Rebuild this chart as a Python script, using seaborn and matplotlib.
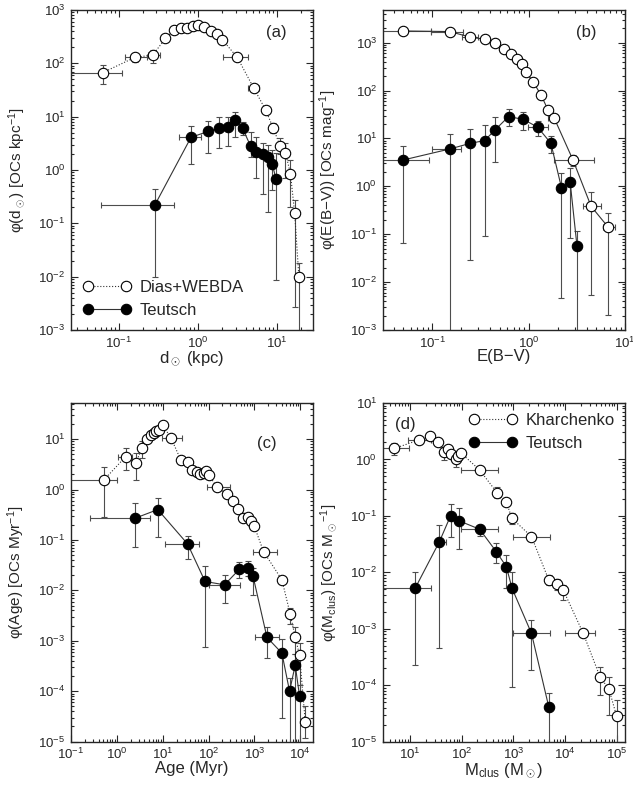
import numpy as np
import matplotlib
matplotlib.use("Agg")
import matplotlib.pyplot as plt
import seaborn as sns

# panel (a): distance distribution
a_dias_x = [0.063, 0.16, 0.27, 0.39, 0.50, 0.61, 0.74, 0.87, 0.99, 1.21, 1.47, 1.76, 2.04, 3.15, 5.1, 7.2, 9.0, 10.9, 12.8, 14.8, 16.7, 18.9]
a_dias_y = [67, 129, 143, 295, 422, 453, 460, 500, 525, 473, 407, 355, 277, 129, 34, 13.3, 6.0, 2.86, 2.1, 0.84, 0.158, 0.0097]
a_dias_ylo = [41, 107, 100, 295, 422, 453, 460, 500, 525, 473, 407, 355, 277, 129, 34, 13.3, 4.9, 2.0, 0.7, 0.2, 0.0027, 1e-7]
a_dias_yhi = [93, 155, 178, 295, 422, 453, 460, 500, 525, 473, 407, 355, 277, 129, 34, 13.3, 7.5, 3.9, 3.2, 1.55, 0.27, 0.018]
a_dias_xlo = [0.01, 0.12, 0.237, 0.39, 0.50, 0.61, 0.74, 0.87, 0.99, 1.21, 1.47, 1.76, 2.04, 2.1, 4.34, 7.2, 9.0, 10.9, 12.8, 14.8, 16.7, 18.9]
a_dias_xhi = [0.109, 0.226, 0.333, 0.39, 0.50, 0.61, 0.74, 0.87, 0.99, 1.21, 1.47, 1.76, 2.04, 4.3, 6.0, 7.2, 9.0, 10.9, 12.8, 14.8, 16.7, 18.9]

a_teu_x = [0.288, 0.82, 1.36, 1.85, 2.43, 2.94, 3.68, 4.64, 5.5, 6.6, 7.6, 8.7, 9.7]
a_teu_y = [0.224, 4.1, 5.3, 6.0, 6.5, 8.7, 6.0, 2.8, 2.2, 2.0, 1.78, 1.3, 0.68]
a_teu_ylo = [0.01, 1.29, 2.06, 2.55, 2.86, 4.2, 4.5, 1.78, 0.7, 0.36, 0.165, 0.42, 0.0087]
a_teu_yhi = [0.435, 6.7, 8.4, 10, 9.8, 12.4, 8.0, 5.2, 4.2, 3.2, 2.9, 2.4, 2.05]
a_teu_xlo = [0.06, 0.57, 1.36, 1.85, 2.43, 2.94, 3.25, 4.64, 5.5, 6.6, 7.6, 8.7, 9.7]
a_teu_xhi = [0.50, 1.1, 1.36, 1.85, 2.43, 2.94, 4.1, 4.64, 5.5, 6.6, 7.6, 8.7, 9.7]

# panel (b): reddening distribution
b_dias_x = [0.050, 0.151, 0.248, 0.348, 0.45, 0.55, 0.65, 0.75, 0.85, 0.93, 1.11, 1.34, 1.59, 1.84, 2.88, 4.45, 6.73]
b_dias_y = [1750, 1700, 1300, 1180, 1000, 730, 570, 450, 355, 247, 153, 81, 39, 26.5, 3.55, 0.38, 0.138]
b_dias_ylo = [1750, 1700, 1300, 1180, 1000, 730, 570, 450, 355, 247, 153, 81, 39, 26.5, 2.6, 0.0054, 0.0021]
b_dias_yhi = [1750, 1700, 1300, 1180, 1000, 730, 570, 450, 355, 247, 153, 81, 39, 26.5, 4.5, 0.76, 0.275]
b_dias_xlo = [0.01, 0.097, 0.204, 0.348, 0.45, 0.55, 0.65, 0.75, 0.85, 0.93, 1.11, 1.34, 1.59, 1.59, 1.84, 3.66, 5.9]
b_dias_xhi = [0.096, 0.21, 0.30, 0.348, 0.45, 0.55, 0.65, 0.75, 0.85, 0.93, 1.11, 1.34, 1.59, 2.02, 4.8, 5.65, 7.8]

b_teu_x = [0.050, 0.151, 0.248, 0.348, 0.45, 0.617, 0.88, 1.24, 1.70, 2.19, 2.69, 3.17]
b_teu_y = [3.55, 6.0, 7.9, 9.0, 15.2, 28.5, 25, 17.1, 7.9, 0.93, 1.25, 0.057]
b_teu_ylo = [0.065, 1e-7, 0.029, 0.09, 3.2, 18.2, 15.2, 11, 4.9, 0.0046, 0.083, 1e-7]
b_teu_yhi = [7.0, 12.4, 15.5, 19.5, 27.5, 41, 35, 23.5, 11, 1.86, 2.4, 0.117]
b_teu_xlo = [0.01, 0.10, 0.248, 0.348, 0.45, 0.617, 0.88, 0.99, 1.70, 2.19, 2.69, 3.17]
b_teu_xhi = [0.092, 0.20, 0.248, 0.348, 0.45, 0.617, 0.88, 1.59, 1.70, 2.19, 2.69, 3.17]

# panel (c): age distribution
c_dias_x = [0.525, 1.56, 2.58, 3.6, 4.6, 5.5, 6.3, 7.2, 8.2, 9.9, 15.2, 25, 35, 44.5, 55.5, 65.6, 77.6, 88.7, 103, 150, 250, 350, 450, 560, 710, 830, 990, 1580, 3980, 6040, 7770, 9660, 12900]
c_dias_y = [1.56, 4.5, 3.34, 6.8, 10, 12.2, 13.2, 14.2, 15.3, 19.2, 10.5, 3.8, 3.44, 2.46, 2.27, 2.04, 2.17, 2.3, 1.93, 1.12, 0.82, 0.6, 0.41, 0.27, 0.283, 0.234, 0.19, 0.059, 0.0162, 0.0034, 0.00118, 0.00052, 2.4e-5]
c_dias_ylo = [0.28, 2.46, 1.56, 4.2, 10, 12.2, 13.2, 14.2, 15.3, 19.2, 10.5, 3.8, 3.44, 2.46, 2.27, 2.04, 2.17, 2.3, 1.93, 1.12, 0.82, 0.6, 0.41, 0.27, 0.283, 0.234, 0.19, 0.059, 0.0162, 0.0022, 0.00056, 6.8e-5, 1.2e-5]
c_dias_yhi = [2.74, 6.6, 5.3, 9.0, 10, 12.2, 13.2, 14.2, 15.3, 19.2, 10.5, 3.8, 3.44, 2.46, 2.27, 2.04, 2.17, 2.3, 1.93, 1.12, 0.82, 0.6, 0.41, 0.27, 0.283, 0.234, 0.19, 0.059, 0.0162, 0.0045, 0.0019, 0.00089, 5e-5]
c_dias_xlo = [0.05, 1.08, 2.58, 3.6, 4.6, 5.5, 6.3, 7.2, 8.2, 9.9, 9.5, 25, 35, 44.5, 55.5, 65.6, 77.6, 88.7, 103, 91, 250, 350, 450, 560, 710, 830, 990, 955, 3980, 6040, 7770, 9660, 12900]
c_dias_xhi = [0.99, 2.1, 2.58, 3.6, 4.6, 5.5, 6.3, 7.2, 8.2, 9.9, 26, 25, 35, 44.5, 55.5, 65.6, 77.6, 88.7, 103, 295, 250, 350, 450, 560, 710, 830, 990, 3100, 3980, 6040, 7770, 9660, 12900]

c_teu_x = [2.5, 7.8, 35, 84, 223, 466, 720, 927, 1880, 3980, 5850, 7770, 9670]
c_teu_y = [0.27, 0.40, 0.083, 0.015, 0.0129, 0.026, 0.028, 0.0197, 0.00117, 0.00057, 1.0e-4, 3.3e-4, 7.9e-5]
c_teu_ylo = [0.072, 0.117, 0.042, 0.00077, 0.0056, 0.0174, 0.0195, 0.0081, 0.00045, 2.9e-5, 1e-7, 1e-7, 1e-7]
c_teu_yhi = [0.54, 0.675, 0.121, 0.0298, 0.0204, 0.037, 0.039, 0.0275, 0.0019, 0.00107, 1.8e-4, 5.6e-4, 1.35e-4]
c_teu_xlo = [0.26, 7.8, 11, 84, 100, 355, 720, 927, 1040, 3980, 5850, 7770, 9670]
c_teu_xhi = [5.3, 7.8, 62, 84, 490, 600, 720, 927, 3380, 3980, 5850, 7770, 9670]

# panel (d): mass distribution
d_khar_x = [4.97, 14.7, 24.8, 34.5, 44.4, 54, 62.5, 75.8, 84, 95, 222, 482, 731, 942, 2240, 4850, 7040, 9200, 22500, 47500, 71000, 100000]
d_khar_y = [1.57, 2.2, 2.6, 2.07, 1.37, 1.51, 1.25, 1.02, 1.15, 1.32, 0.65, 0.258, 0.174, 0.090, 0.043, 0.0073, 0.0062, 0.0049, 8.3e-4, 1.41e-4, 8.5e-5, 2.8e-5]
d_khar_ylo = [1.2, 2.2, 2.6, 2.07, 0.98, 1.51, 1.25, 0.74, 1.15, 1.32, 0.65, 0.205, 0.174, 0.072, 0.043, 0.006, 0.0049, 0.0032, 8.3e-4, 6.7e-5, 3.0e-5, 1e-7]
d_khar_yhi = [1.98, 2.2, 2.6, 2.07, 1.68, 1.51, 1.25, 1.2, 1.15, 1.32, 0.65, 0.32, 0.174, 0.114, 0.043, 0.0089, 0.0075, 0.006, 8.3e-4, 2.1e-4, 1.41e-4, 5.5e-5]
d_khar_xlo = [2, 9.0, 24.8, 34.5, 44.4, 54, 62.5, 75.8, 84, 95, 98, 482, 731, 942, 980, 4850, 7040, 9200, 10000, 47500, 71000, 100000]
d_khar_xhi = [9.7, 25.6, 24.8, 34.5, 44.4, 54, 62.5, 75.8, 84, 95, 500, 482, 731, 942, 5070, 4850, 7040, 9200, 38000, 47500, 71000, 100000]

d_teu_x = [12.5, 37, 60.7, 88, 222, 467, 731, 942, 2240, 4850]
d_teu_y = [0.0052, 0.035, 0.100, 0.082, 0.058, 0.0232, 0.0126, 0.0052, 8.3e-4, 4.1e-5]
d_teu_ylo = [2.3e-4, 4.5e-4, 0.043, 0.0256, 0.044, 0.0144, 0.0052, 9.3e-5, 1.86e-4, 1e-7]
d_teu_yhi = [0.0101, 0.069, 0.163, 0.137, 0.069, 0.0326, 0.0204, 0.0103, 1.45e-3, 7.2e-5]
d_teu_xlo = [2, 30.5, 60.7, 88, 98, 467, 731, 942, 980, 4850]
d_teu_xhi = [25.6, 50, 60.7, 88, 500, 467, 731, 942, 5070, 4850]

sns.set_style("ticks")
plt.rcParams['font.family'] = ['Liberation Sans', 'DejaVu Sans']
plt.rcParams['mathtext.fontset'] = 'custom'
plt.rcParams['mathtext.rm'] = 'Liberation Sans'
plt.rcParams['mathtext.it'] = 'Liberation Sans:italic'
plt.rcParams['mathtext.bf'] = 'Liberation Sans:bold'

fig = plt.figure(figsize=(6.33, 7.86), dpi=100)
ax_a = fig.add_axes([0.1122, 0.5802, 0.3823, 0.4071])
ax_b = fig.add_axes([0.6046, 0.5802, 0.3828, 0.4071])
ax_c = fig.add_axes([0.1122, 0.0564, 0.3823, 0.4309])
ax_d = fig.add_axes([0.6046, 0.0564, 0.3828, 0.4309])


def draw_series(ax, x, y, xlo, xhi, ylo, yhi, filled, ls, label):
    x = np.array(x); y = np.array(y)
    xerr = [x - np.array(xlo), np.array(xhi) - x]
    yerr = [y - np.array(ylo), np.array(yhi) - y]
    ax.errorbar(x, y, xerr=xerr, yerr=yerr, fmt='none', ecolor='0.3',
                elinewidth=0.8, capsize=2, capthick=0.8, zorder=1)
    sns.lineplot(x=x, y=y, ax=ax, sort=False, estimator=None, color='0.2',
                 linestyle=ls, linewidth=0.8, marker='o', markersize=7.5,
                 markerfacecolor='black' if filled else 'white',
                 markeredgecolor='black', markeredgewidth=0.8,
                 label=label, legend=False, zorder=3)


def style_axes(ax, xlim, ylim, xlabel, ylabel, tag, tagpos):
    ax.set_xscale('log')
    ax.set_yscale('log')
    ax.set_xlim(*xlim)
    ax.set_ylim(*ylim)
    ax.set_xlabel(xlabel, fontsize=12, labelpad=-1)
    ax.set_ylabel(ylabel, fontsize=11, labelpad=8)
    ax.tick_params(which='both', direction='in', top=True, right=True,
                   width=0.8, labelsize=9.5, pad=4)
    ax.tick_params(which='major', length=5)
    ax.tick_params(which='minor', length=2.5)
    ax.yaxis.set_major_locator(matplotlib.ticker.LogLocator(base=10, numticks=20))
    ax.yaxis.set_minor_locator(matplotlib.ticker.LogLocator(base=10, subs=np.arange(2, 10), numticks=20))
    ax.xaxis.set_minor_locator(matplotlib.ticker.LogLocator(base=10, subs=np.arange(2, 10), numticks=20))
    ax.yaxis.set_minor_formatter(matplotlib.ticker.NullFormatter())
    ax.xaxis.set_minor_formatter(matplotlib.ticker.NullFormatter())
    for sp in ax.spines.values():
        sp.set_linewidth(1.0)
    ax.text(tagpos[0], tagpos[1], tag, transform=ax.transAxes, fontsize=12,
            ha='center', va='center')


for ax in (ax_a, ax_b, ax_c, ax_d):
    ax.set_xscale('log')
    ax.set_yscale('log')

draw_series(ax_a, a_dias_x, a_dias_y, a_dias_xlo, a_dias_xhi, a_dias_ylo, a_dias_yhi, False, ':', 'Dias+WEBDA')
draw_series(ax_a, a_teu_x, a_teu_y, a_teu_xlo, a_teu_xhi, a_teu_ylo, a_teu_yhi, True, '-', 'Teutsch')
style_axes(ax_a, (0.025, 28.5), (1e-3, 1e3), r'd$_\odot$ (kpc)',
           r'φ(d$_\odot$) [OCs kpc$^{-1}$]', '(a)', (0.85, 0.93))
ax_a.legend(loc='lower left', frameon=False, fontsize=12, numpoints=2,
            handlelength=2.9, handletextpad=0.5, labelspacing=0.5,
            borderaxespad=0.3, bbox_to_anchor=(0.0, 0.0))

draw_series(ax_b, b_dias_x, b_dias_y, b_dias_xlo, b_dias_xhi, b_dias_ylo, b_dias_yhi, False, '-', None)
draw_series(ax_b, b_teu_x, b_teu_y, b_teu_xlo, b_teu_xhi, b_teu_ylo, b_teu_yhi, True, '-', None)
style_axes(ax_b, (0.0305, 10), (1e-3, 4800), 'E(B−V)',
           r'φ(E(B−V)) [OCs mag$^{-1}$]', '(b)', (0.84, 0.93))

draw_series(ax_c, c_dias_x, c_dias_y, c_dias_xlo, c_dias_xhi, c_dias_ylo, c_dias_yhi, False, ':', None)
draw_series(ax_c, c_teu_x, c_teu_y, c_teu_xlo, c_teu_xhi, c_teu_ylo, c_teu_yhi, True, '-', None)
style_axes(ax_c, (0.1, 1.9e4), (1e-5, 52), 'Age (Myr)',
           r'φ(Age) [OCs Myr$^{-1}$]', '(c)', (0.81, 0.88))

draw_series(ax_d, d_khar_x, d_khar_y, d_khar_xlo, d_khar_xhi, d_khar_ylo, d_khar_yhi, False, ':', 'Kharchenko')
draw_series(ax_d, d_teu_x, d_teu_y, d_teu_xlo, d_teu_xhi, d_teu_ylo, d_teu_yhi, True, '-', 'Teutsch')
style_axes(ax_d, (2.95, 1.45e5), (1e-5, 10), r'M$_\mathrm{clus}$ (M$_\odot$)',
           r'φ(M$_\mathrm{clus}$) [OCs M$_\odot$$^{-1}$]', '(d)', (0.095, 0.935))
ax_d.legend(loc='upper right', frameon=False, fontsize=12, numpoints=2,
            handlelength=2.9, handletextpad=0.5, labelspacing=0.5,
            borderaxespad=0.2)

fig.savefig('out.png', dpi=100)
